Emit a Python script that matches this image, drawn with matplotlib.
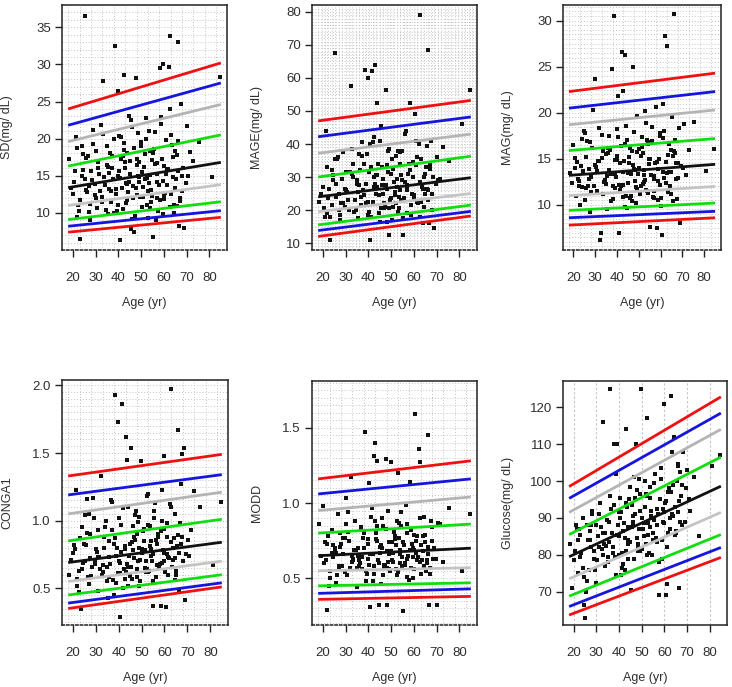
import matplotlib
matplotlib.use("Agg")
import matplotlib.pyplot as plt
import numpy as np

plt.rcParams['font.family'] = ['Liberation Sans', 'DejaVu Sans']

# ages of the subjects (shared by all six panels)
age = [
    18.5, 20.1, 21.3, 22.0, 23.4, 24.7, 25.2, 26.0, 26.8, 27.5, 28.3, 29.1, 30.0, 30.8, 31.6, 32.4, 33.1, 34.0, 34.9, 35.6,
    36.2, 37.0, 37.8, 38.5, 39.3, 40.1, 40.8, 41.5, 42.3, 43.0, 43.8, 44.5, 45.3, 46.0, 46.8, 47.6, 48.3, 49.1, 49.9, 50.6,
    51.4, 52.2, 52.9, 53.7, 54.5, 55.2, 56.0, 56.8, 57.5, 58.3, 59.0, 59.8, 60.6, 61.3, 62.1, 62.9, 63.6, 64.4, 65.2, 66.0,
    66.7, 67.5, 68.3, 69.0, 70.2, 71.5, 73.0, 75.4, 81.0, 84.5, 19.2, 21.8, 23.0, 24.1, 25.9, 27.2, 28.8, 29.6, 31.2, 32.9,
    33.7, 35.1, 36.6, 37.4, 38.9, 39.7, 40.4, 41.2, 42.0, 42.7, 43.5, 44.2, 45.0, 45.7, 46.5, 47.2, 48.0, 48.8, 49.5, 50.3,
    51.0, 51.8, 52.6, 53.3, 54.1, 54.9, 55.6, 56.4, 57.2, 57.9, 58.7, 59.4, 60.2, 61.0, 61.7, 62.5, 63.3, 64.0, 64.8, 65.6,
    66.4, 67.1, 68.0, 20.6, 22.5, 24.4, 26.4, 28.0, 30.4, 32.0, 34.4, 36.0, 38.2, 39.0, 40.6, 41.9, 43.3, 44.8, 46.2, 47.9,
    49.3, 50.9, 52.4, 53.9, 55.4, 56.9, 58.4, 59.9, 61.5, 63.0, 64.6, 66.2, 67.8, 69.5, 27.7, 35.3, 42.6, 45.6, 48.6, 54.3,
    22.8, 25.5, 29.9, 33.4, 37.2, 39.9, 41.0, 43.9, 47.0, 50.0, 51.7, 53.0, 55.0, 57.0, 58.9, 60.9, 62.7, 65.0, 67.0, 70.8,
    24.0, 31.0, 35.8, 38.0, 40.0, 44.0, 46.4, 49.0, 52.0, 56.2, 60.0, 63.8, 65.9, 21.0, 27.0, 33.0, 42.9, 48.2, 53.5, 59.6,
]

sd = [
    17.2, 12.5, 20.2, 9.4, 6.5, 15.8, 36.5, 13.1, 17.6, 11.2, 14.4, 19.3, 12.0, 10.6, 15.2, 21.8, 27.8, 13.7, 16.5, 9.8,
    18.1, 12.9, 14.6, 32.5, 10.3, 20.4, 6.3, 13.4, 28.6, 16.9, 11.7, 23.1, 15.3, 9.2, 18.8, 28.2, 12.4, 14.9, 19.6, 10.8,
    16.2, 22.8, 13.0, 18.4, 11.5, 6.8, 20.9, 14.1, 10.2, 29.5, 17.3, 30.1, 12.7, 15.8, 29.7, 33.8, 19.2, 11.1, 14.5, 33.0,
    8.3, 24.6, 16.0, 8.0, 21.7, 18.2, 17.0, 19.5, 14.8, 28.3, 13.3, 18.7, 11.8, 15.0, 17.4, 10.1, 21.2, 13.9, 16.0, 12.2,
    14.8, 19.0, 11.4, 17.7, 13.2, 26.4, 15.6, 20.2, 10.5, 18.5, 14.0, 12.8, 17.0, 22.5, 13.6, 9.6, 16.4, 20.8, 12.1, 15.5,
    13.5, 17.9, 11.0, 21.0, 15.1, 12.3, 18.6, 9.0, 16.7, 13.8, 22.9, 14.3, 11.9, 19.8, 15.9, 24.0, 12.6, 17.5, 13.4, 10.9,
    19.7, 12.0, 15.0, 14.2, 11.0, 17.9, 12.8, 15.7, 18.4, 13.0, 10.4, 15.4, 19.9, 12.5, 14.7, 17.6, 11.3, 14.1, 21.6, 13.3,
    16.8, 12.2, 14.7, 10.6, 18.0, 15.2, 11.8, 16.3, 13.7, 20.5, 10.0, 15.6, 12.9, 14.0, 9.1, 16.2, 19.4, 7.8, 15.0, 13.1,
    10.2, 14.5, 12.4, 20.6, 16.1, 11.0, 17.2, 13.9, 7.4, 19.0, 14.6, 9.3, 17.1, 12.0, 22.0, 15.3, 10.8, 18.3, 11.6, 15.0,
    19.0, 16.8, 13.2, 10.0, 15.0, 18.0, 12.0, 14.2, 20.0, 16.6, 12.4, 14.8, 17.8, 15.6, 13.6, 11.5, 16.0, 17.3, 14.0, 9.9,
]

mage = [
    22.5, 27.0, 44.0, 19.0, 11.0, 30.5, 67.5, 24.0, 36.0, 18.5, 29.5, 22.0, 31.5, 25.5, 20.0, 57.5, 34.0, 23.0, 28.0, 17.5,
    32.0, 21.5, 26.0, 62.5, 37.0, 19.5, 11.0, 62.0, 30.0, 64.0, 52.5, 24.5, 41.0, 27.5, 20.5, 56.5, 33.5, 12.5, 23.5, 35.5,
    28.5, 22.0, 38.0, 26.0, 30.5, 12.5, 43.0, 19.0, 31.0, 52.5, 25.0, 34.5, 49.0, 22.5, 40.0, 79.0, 27.0, 21.0, 33.0, 68.5,
    16.0, 41.0, 30.0, 14.5, 36.0, 29.5, 39.0, 35.0, 46.0, 56.5, 25.0, 33.0, 18.0, 21.5, 28.0, 20.0, 37.5, 26.5, 23.0, 31.0,
    19.5, 29.0, 24.0, 36.5, 22.0, 60.0, 31.5, 18.0, 40.5, 27.0, 25.0, 34.0, 16.5, 45.5, 29.5, 21.0, 26.5, 38.0, 23.0, 17.0,
    32.5, 24.5, 27.0, 20.5, 37.5, 29.0, 23.5, 44.0, 26.0, 34.0, 18.5, 30.0, 24.0, 41.0, 22.0, 28.5, 35.5, 16.0, 31.0, 26.5,
    23.0, 33.5, 25.0, 20.5, 23.5, 29.0, 35.5, 22.0, 26.0, 31.5, 20.0, 37.0, 24.5, 28.0, 40.0, 22.5, 30.5, 19.0, 33.0, 27.5,
    38.5, 21.0, 29.5, 34.0, 17.5, 27.0, 32.0, 24.5, 36.0, 22.5, 30.0, 26.0, 20.0, 28.0, 17.0, 25.5, 42.0, 20.5, 31.5, 23.0,
    26.5, 35.5, 21.0, 30.0, 40.5, 18.5, 33.0, 27.0, 22.0, 31.0, 25.5, 19.5, 38.0, 27.5, 21.5, 33.5, 18.0, 25.0, 32.5, 29.0,
    32.0, 23.0, 27.5, 34.0, 22.5, 30.5, 25.0, 20.5, 36.5, 28.5, 23.5, 26.5, 39.5, 18.0, 25.0, 38.5, 28.0, 16.5, 24.0, 30.0,
]

mag = [
    13.5, 16.5, 11.0, 12.8, 14.2, 18.0, 10.5, 15.2, 12.0, 16.8, 13.0, 20.3, 23.7, 11.5, 14.8, 6.2, 17.6, 12.5, 15.5, 9.6,
    13.8, 16.0, 24.8, 30.5, 11.8, 18.2, 7.0, 14.5, 26.6, 12.2, 26.3, 17.0, 13.5, 10.8, 15.8, 25.0, 12.6, 19.6, 14.0, 11.2,
    16.3, 13.2, 20.2, 11.5, 15.0, 7.6, 18.5, 12.8, 14.6, 7.5, 10.5, 17.8, 6.7, 13.6, 28.3, 27.3, 15.4, 12.0, 19.5, 30.7,
    15.6, 10.6, 18.4, 8.0, 14.0, 13.2, 16.0, 19.0, 13.7, 16.1, 12.4, 14.7, 10.0, 17.2, 11.8, 13.9, 16.2, 12.0, 14.8, 7.0,
    15.9, 12.3, 17.5, 10.4, 14.9, 13.0, 21.8, 11.6, 16.4, 13.6, 9.8, 18.6, 12.4, 15.2, 11.0, 14.3, 17.9, 10.2, 13.4, 16.1,
    12.1, 15.6, 13.8, 18.9, 11.3, 14.4, 16.8, 10.9, 13.1, 20.6, 12.6, 15.0, 9.9, 17.3, 12.9, 14.7, 11.4, 16.6, 13.6, 10.4,
    17.0, 12.8, 14.6, 15.1, 12.0, 13.7, 16.9, 11.4, 14.1, 18.3, 12.7, 15.6, 10.6, 13.3, 17.4, 12.1, 14.8, 9.7, 16.2, 13.9,
    11.7, 15.3, 12.5, 17.0, 13.2, 10.7, 14.7, 12.2, 18.0, 13.5, 11.2, 15.9, 12.9, 14.2, 9.2, 13.1, 22.4, 14.5, 11.9, 16.6,
    12.6, 17.8, 14.3, 11.2, 13.4, 15.3, 12.2, 16.6, 10.4, 14.0, 17.4, 12.7, 15.0, 11.5, 13.9, 21.0, 12.4, 16.0, 14.6, 18.8,
    11.9, 13.7, 16.2, 12.1, 14.9, 11.0, 13.3, 15.7, 12.3, 16.9, 10.8, 13.6, 15.3, 14.0, 12.8, 15.1, 10.9, 13.8, 11.6, 17.5,
]

conga1 = [
    0.60, 0.76, 1.23, 0.52, 0.35, 0.83, 0.70, 1.16, 0.58, 0.90, 0.66, 1.02, 0.79, 0.48, 0.73, 1.33, 0.62, 0.95, 0.55, 0.85,
    0.68, 1.14, 0.45, 1.93, 0.80, 1.02, 0.29, 1.86, 0.64, 1.62, 1.45, 0.74, 1.54, 0.57, 0.88, 1.07, 0.70, 0.52, 1.44, 0.92,
    0.78, 1.18, 0.62, 0.96, 0.70, 0.37, 1.13, 0.83, 0.66, 0.37, 1.00, 1.48, 0.36, 0.88, 0.72, 1.97, 0.80, 1.05, 0.60, 1.67,
    0.98, 1.49, 1.54, 0.41, 0.86, 0.93, 1.22, 1.10, 0.67, 1.14, 0.71, 0.57, 0.87, 0.64, 0.82, 0.53, 1.17, 0.68, 0.93, 0.60,
    0.88, 0.66, 1.15, 0.56, 0.74, 1.73, 0.61, 0.97, 0.50, 0.79, 0.68, 1.10, 0.59, 0.84, 0.72, 1.04, 0.64, 0.80, 0.55, 0.76,
    0.94, 0.70, 1.20, 0.63, 0.85, 0.75, 1.07, 0.58, 0.90, 0.68, 1.23, 0.78, 0.62, 0.98, 0.73, 1.12, 0.66, 0.87, 0.56, 0.81,
    0.76, 1.27, 0.70, 0.82, 0.47, 0.69, 0.91, 0.59, 0.77, 0.64, 1.00, 0.73, 0.87, 0.54, 0.69, 1.09, 0.62, 0.83, 0.96, 0.58,
    0.71, 0.85, 0.64, 0.79, 1.02, 0.67, 0.92, 0.76, 0.60, 0.84, 0.72, 0.49, 0.88, 0.75, 0.72, 0.43, 0.81, 0.66, 0.99, 0.74,
    0.63, 1.04, 0.70, 0.80, 0.93, 0.61, 0.77, 0.52, 0.86, 0.79, 0.65, 0.97, 0.55, 0.88, 0.69, 0.75, 1.10, 0.63, 0.83, 0.74,
    0.95, 0.73, 0.58, 0.83, 0.70, 0.66, 0.78, 1.03, 0.62, 0.86, 0.94, 0.71, 0.89, 0.79, 1.05, 0.67, 0.57, 0.90, 0.81, 0.70,
]

modd = [
    0.86, 0.98, 0.62, 0.29, 0.55, 0.72, 0.68, 0.47, 0.93, 0.80, 0.58, 0.66, 1.03, 0.52, 0.75, 1.17, 0.63, 0.88, 0.44, 0.70,
    0.60, 0.84, 0.77, 1.47, 0.53, 1.13, 0.31, 0.97, 1.31, 1.40, 1.28, 0.32, 0.67, 0.90, 0.57, 1.29, 0.32, 0.74, 1.27, 0.62,
    0.81, 0.56, 1.20, 0.69, 0.94, 0.28, 0.59, 0.86, 0.65, 1.14, 0.73, 0.50, 1.59, 0.78, 1.36, 1.27, 0.62, 0.91, 0.55, 1.45,
    0.32, 0.88, 0.63, 0.70, 0.32, 0.86, 0.61, 0.97, 0.55, 0.93, 0.65, 0.73, 0.50, 0.82, 0.67, 0.58, 0.77, 0.54, 0.94, 0.61,
    0.69, 0.57, 0.83, 0.64, 0.48, 0.76, 0.59, 0.91, 0.66, 0.53, 0.80, 0.62, 0.71, 0.46, 0.85, 0.58, 0.68, 0.95, 0.55, 0.74,
    0.61, 0.78, 0.52, 0.87, 0.66, 0.58, 0.72, 0.99, 0.63, 0.49, 0.82, 0.70, 0.56, 0.75, 0.64, 0.90, 0.53, 0.68, 0.79, 0.60,
    0.71, 0.57, 0.84, 0.60, 0.78, 0.64, 0.52, 0.73, 0.86, 0.57, 0.69, 0.62, 0.80, 0.55, 0.66, 0.48, 0.76, 0.60, 0.70, 0.83,
    0.56, 0.67, 0.88, 0.60, 0.74, 0.51, 0.69, 0.79, 0.62, 0.72, 0.58, 0.66, 0.75, 0.63, 0.71, 0.65, 0.58, 0.72, 0.61, 0.85,
    0.45, 0.70, 0.77, 0.62, 0.56, 0.73, 0.66, 0.85, 0.59, 0.68, 0.76, 0.54, 0.64, 0.80, 0.57, 0.67, 0.61, 0.74, 0.53, 0.87,
    0.67, 0.81, 0.58, 0.70, 0.63, 0.75, 0.52, 0.66, 0.72, 0.60, 0.69, 0.78, 0.62, 0.74, 0.56, 0.65, 0.88, 0.57, 0.77, 0.64,
]

glucose = [
    83.0, 78.5, 87.0, 75.0, 80.5, 66.5, 63.0, 88.0, 76.0, 82.0, 91.0, 79.0, 72.5, 85.0, 94.0, 81.5, 116.0, 77.0, 89.5, 83.5,
    125.0, 86.0, 110.0, 102.0, 110.0, 80.0, 91.5, 76.5, 88.5, 114.0, 84.0, 95.0, 70.5, 89.0, 101.0, 110.0, 82.5, 96.5, 125.0, 87.0,
    93.0, 117.0, 85.5, 98.5, 80.0, 90.0, 102.0, 88.0, 69.0, 95.0, 84.0, 121.0, 69.0, 72.0, 98.0, 123.0, 91.0, 112.0, 86.5, 104.0,
    71.0, 96.0, 108.0, 89.0, 103.0, 92.0, 101.0, 85.0, 104.0, 107.0, 71.0, 84.0, 79.5, 90.0, 73.0, 86.5, 81.0, 76.0, 91.0, 80.0,
    86.0, 78.0, 92.5, 82.0, 74.5, 88.0, 95.5, 80.5, 86.5, 76.0, 93.0, 83.0, 98.5, 87.5, 79.0, 91.0, 84.5, 100.5, 81.0, 90.0,
    88.5, 83.0, 96.0, 80.5, 92.0, 86.0, 99.5, 84.5, 91.0, 78.0, 103.5, 89.0, 94.0, 82.0, 97.0, 87.0, 108.0, 90.5, 85.5, 100.0,
    94.5, 89.0, 99.0, 81.0, 87.0, 74.0, 84.0, 92.0, 78.5, 87.5, 82.5, 96.0, 79.5, 85.5, 90.0, 77.5, 94.0, 83.5, 88.5, 97.5,
    92.0, 85.0, 80.0, 95.5, 89.5, 83.5, 100.5, 91.5, 86.0, 97.0, 93.0, 104.5, 88.0, 98.0, 88.0, 79.5, 84.5, 93.5, 81.0, 90.5,
    85.5, 70.0, 88.0, 83.0, 80.5, 91.5, 74.5, 87.5, 95.5, 81.5, 100.0, 88.5, 84.0, 92.5, 79.0, 94.5, 90.0, 86.0, 102.5, 95.0,
    76.5, 82.0, 89.0, 93.5, 85.0, 79.0, 90.5, 87.0, 96.5, 84.0, 88.5, 99.0, 91.5, 88.0, 84.0, 86.0, 81.0, 83.0, 87.5, 92.5,
]

# percentile reference lines: 97th, 95th, 90th, 75th, 50th, 25th, 10th, 5th, 3rd
pct_ages = [18, 85]
sd_pct = [(24.0, 30.2), (21.8, 27.5), (19.6, 24.6), (16.3, 20.5), (13.4, 16.8), (11.0, 13.8), (9.1, 11.5), (8.2, 10.3), (7.4, 9.4)]
mage_pct = [(47.0, 53.2), (42.2, 48.2), (37.2, 43.0), (30.0, 36.3), (24.0, 29.8), (19.5, 25.0), (15.5, 21.5), (13.8, 19.6), (12.0, 18.2)]
mag_pct = [(22.3, 24.3), (20.5, 22.3), (18.7, 20.3), (15.9, 17.2), (13.2, 14.4), (11.0, 12.0), (9.4, 10.2), (8.6, 9.3), (7.8, 8.6)]
conga1_pct = [(1.33, 1.49), (1.19, 1.34), (1.05, 1.21), (0.85, 1.01), (0.69, 0.84), (0.55, 0.70), (0.45, 0.60), (0.39, 0.54), (0.35, 0.51)]
modd_pct = [(1.16, 1.28), (1.06, 1.16), (0.95, 1.04), (0.80, 0.86), (0.65, 0.70), (0.55, 0.57), (0.45, 0.47), (0.40, 0.43), (0.36, 0.38)]
glucose_pct = [(98.5, 122.8), (95.3, 118.4), (91.5, 114.0), (85.5, 106.5), (79.5, 98.6), (73.5, 91.5), (68.8, 85.5), (66.0, 82.0), (63.7, 79.3)]
pct_colors = ['#ee1111', '#1515dd', '#b4b4b4', '#11dd11', '#111111', '#c4c4c4', '#11dd11', '#1515dd', '#ee1111']

ylabels = ['SD(mg/ dL)', 'MAGE(mg/ dL)', 'MAG(mg/ dL)', 'CONGA1', 'MODD', 'Glucose(mg/ dL)']

# layout in pixels of the 732x687 picture: left, right, top, bottom
boxes = [(62, 227, 5, 250), (312, 477, 5, 250), (563, 721, 5, 250),
         (62, 228, 380, 625), (312, 477, 381, 625), (563, 727, 381, 625)]
ylims = [(5.0, 38.0), (7.9, 82.1), (5.1, 31.7), (0.228, 2.04), (0.19, 1.81), (61.0, 127.1)]
yticks = [[10, 15, 20, 25, 30, 35], [10, 20, 30, 40, 50, 60, 70, 80], [10, 15, 20, 25, 30],
          [0.5, 1.0, 1.5, 2.0], [0.5, 1.0, 1.5], [70, 80, 90, 100, 110, 120]]
ytickfmt = ['{:.0f}', '{:.0f}', '{:.0f}', '{:.1f}', '{:.1f}', '{:.0f}']
hgrid_step = [1.0, 1.0, 0.5, 0.05, 0.05, None]
vgrid_step = [5.0, 1.5, 5.0, 5.0, 5.0, 10.0]

values = [sd, mage, mag, conga1, modd, glucose]
pcts = [sd_pct, mage_pct, mag_pct, conga1_pct, modd_pct, glucose_pct]

W, H = 732, 687
fig = plt.figure(figsize=(W / 100, H / 100), dpi=100)
txt = '#2e2e2e'

for i in range(6):
    l, r, t, b = boxes[i]
    ax = fig.add_axes([l / W, 1 - b / H, (r - l) / W, (b - t) / H])
    ax.set_xlim(15.3, 87.7)
    ax.set_ylim(*ylims[i])

    # dotted background grid
    gc = '#c4c4c4'
    if hgrid_step[i]:
        step = hgrid_step[i]
        for yv in np.arange(np.ceil(ylims[i][0] / step) * step, ylims[i][1], step):
            ax.axhline(yv, color=gc, lw=0.7, ls=(0, (1, 2)), zorder=0)
    if i == 5:
        for xv in range(20, 90, 10):
            ax.axvline(xv, color=gc, lw=0.8, ls=(0, (2, 2)), zorder=0)
    else:
        for xv in np.arange(18, 87.7, vgrid_step[i]):
            ax.axvline(xv, color=gc, lw=0.7, ls=(0, (1, 2)), zorder=0)

    ax.scatter(age, values[i], s=6, marker='s', color='#111111', lw=0, zorder=3)

    for (y0, y1), c in zip(pcts[i], pct_colors):
        ax.plot(pct_ages, [y0, y1], color=c, lw=2.0, zorder=4, solid_capstyle='butt')

    ax.set_xticks([20, 30, 40, 50, 60, 70, 80])
    ax.set_yticks(yticks[i])
    ax.set_yticklabels([ytickfmt[i].format(v) for v in yticks[i]])
    ax.tick_params(axis='x', length=5, width=1, pad=11, labelsize=9.5, colors='#222222', labelcolor=txt)
    ax.tick_params(axis='y', length=5, width=1, pad=3, labelsize=9.5, colors='#222222', labelcolor=txt)

    for s in ax.spines.values():
        s.set_color('#222222')
        s.set_linewidth(1.1)
    if i != 5:
        ax.spines['bottom'].set_linestyle((0, (1.5, 1.5)))

    ax.set_xlabel('Age (yr)', fontsize=9, color=txt)
    ax.xaxis.set_label_coords(0.5, -47 / (b - t))
    ax.set_ylabel(ylabels[i], fontsize=9, color=txt)
    ax.yaxis.set_label_coords(-49 / (r - l), 0.5)

fig.savefig('out.png', dpi=100)
